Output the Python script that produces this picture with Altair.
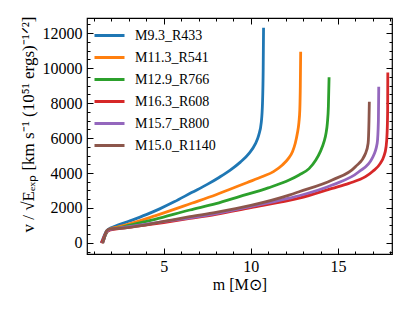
import altair as alt
import pandas as pd

series = ["M9.3_R433", "M11.3_R541", "M12.9_R766", "M16.3_R608", "M15.7_R800", "M15.0_R1140"]
colors = ["#1f77b4", "#ff7f0e", "#2ca02c", "#d62728", "#9467bd", "#8c564b"]

m_blue = [1.42, 1.5, 1.6, 1.7, 1.85, 2.2, 3, 4, 4.77, 5.6, 6.6, 7.5, 8.2, 8.8, 9.4, 9.9, 10.25, 10.45, 10.6, 10.67, 10.71, 10.73]
v_blue = [0, 200, 450, 650, 800, 950, 1240, 1620, 1950, 2350, 2880, 3350, 3760, 4150, 4620, 5120, 5650, 6150, 6900, 8000, 10000, 12300]

m_orange = [1.45, 1.55, 1.65, 1.75, 1.9, 2.3, 3, 4.5, 6.6, 8, 8.77, 9.8, 10.67, 11.3, 11.81, 12.15, 12.39, 12.55, 12.67, 12.76, 12.81, 12.84, 12.86]
v_orange = [0, 250, 500, 680, 790, 900, 1080, 1550, 2270, 2760, 3060, 3460, 3800, 4080, 4460, 4820, 5220, 5700, 6270, 6900, 7600, 9000, 10930]

m_green = [1.48, 1.58, 1.68, 1.78, 1.95, 2.4, 3, 4.5, 6.5, 8, 9.34, 11, 12.2, 12.77, 13.34, 13.73, 14.0, 14.2, 14.32, 14.39, 14.45, 14.49]
v_green = [0, 250, 500, 680, 770, 860, 1000, 1350, 1886, 2250, 2650, 3150, 3600, 3890, 4250, 4740, 5250, 5790, 6300, 6840, 7800, 9470]

m_red = [1.42, 1.52, 1.62, 1.75, 1.95, 2.5, 3.5, 5, 6.5, 8, 10, 12.2, 12.77, 14.67, 15.63, 16.58, 17.0, 17.43, 17.63, 17.76, 17.82, 17.85, 17.86]
v_red = [0, 200, 450, 650, 740, 830, 960, 1170, 1400, 1640, 2020, 2430, 2560, 3120, 3410, 3790, 4100, 4550, 4950, 5500, 6300, 7600, 9750]

m_purple = [1.5, 1.6, 1.7, 1.8, 1.95, 2.5, 3.5, 5, 6.5, 8, 10, 12.2, 12.77, 14.67, 16.2, 16.96, 17.25, 17.32, 17.34]
v_purple = [0, 300, 600, 720, 780, 860, 1000, 1220, 1430, 1680, 2080, 2560, 2700, 3310, 4070, 4840, 5700, 7000, 8930]

m_brown = [1.5, 1.6, 1.7, 1.8, 1.95, 2.56, 3.5, 5, 6.5, 8, 10, 12.2, 12.77, 14.67, 16.0, 16.58, 16.73, 16.78, 16.8]
v_brown = [0, 300, 650, 760, 810, 840, 960, 1230, 1500, 1750, 2150, 2740, 2930, 3600, 4360, 5120, 5700, 7000, 8070]

x_major = [5, 10, 15]
x_minor = list(range(1, 19))
y_major = [0, 2000, 4000, 6000, 8000, 10000, 12000]
y_minor = list(range(-500, 12501, 500))
x_domain = [0.6, 18.1]
y_domain = [-630, 12860]

rows = []
for name, ms, vs in zip(series,
                        [m_blue, m_orange, m_green, m_red, m_purple, m_brown],
                        [v_blue, v_orange, v_green, v_red, v_purple, v_brown]):
    for i, (m, v) in enumerate(zip(ms, vs)):
        rows.append({"model": name, "m": m, "v": v, "i": i})
df = pd.DataFrame(rows)

FONT = "Liberation Serif, serif"
xs = alt.Scale(domain=x_domain, nice=False, zero=False)
ys = alt.Scale(domain=y_domain, nice=False, zero=False)


def tick_axis(orient, values, size, labels=False, **kw):
    return alt.Axis(orient=orient, values=values, tickSize=size, offset=-size,
                    domain=False, grid=False, labels=labels, tickColor="black",
                    tickWidth=1, **kw)


x_main = tick_axis("bottom", x_major, 6, labels=True, title="m [M⊙]", format="d",
                   labelPadding=4, titlePadding=2, labelFontSize=16,
                   titleFontSize=16, labelFont=FONT, titleFont=FONT,
                   titleFontWeight="normal", labelColor="black", titleColor="black")
y_main = tick_axis("left", y_major, 6, labels=True, format="d",
                   title="v / √Eₑₓₚ [km s⁻¹ (10⁵¹ ergs)⁻¹ᐟ²]",
                   labelPadding=5, titlePadding=5, titleY=106, labelFontSize=16,
                   titleFontSize=17, labelFont=FONT, titleFont=FONT,
                   titleFontWeight="normal", labelColor="black", titleColor="black")

lines = alt.Chart(df).mark_line(strokeWidth=2.8, interpolate="monotone").encode(
    x=alt.X("m:Q", scale=xs, axis=x_main),
    y=alt.Y("v:Q", scale=ys, axis=y_main),
    color=alt.Color("model:N", scale=alt.Scale(domain=series, range=colors),
                    legend=alt.Legend(title=None, orient="none", legendX=6, legendY=9,
                                      symbolType="stroke", symbolStrokeWidth=3,
                                      symbolSize=900, labelFontSize=14, labelFont=FONT,
                                      labelColor="black", labelOffset=9,
                                      rowPadding=5, clipHeight=17)),
    order="i:Q",
)


def ghost(xaxis, yaxis):
    return alt.Chart(df).mark_point(opacity=0, size=1).encode(
        x=alt.X("m:Q", scale=xs, axis=xaxis),
        y=alt.Y("v:Q", scale=ys, axis=yaxis),
    )


g1 = ghost(tick_axis("bottom", x_minor, 3, title=""), tick_axis("left", y_minor, 3, title=""))
g2 = ghost(tick_axis("top", x_major, 6, title=""), tick_axis("right", y_major, 6, title=""))
g3 = ghost(tick_axis("top", x_minor, 3, title=""), tick_axis("right", y_minor, 3, title=""))

chart = alt.layer(g1, g2, g3, lines).resolve_axis(
    x="independent", y="independent"
).properties(
    width=305, height=236,
    autosize=alt.AutoSizeParams(type="none"),
    padding={"left": 79, "top": 10, "right": 15, "bottom": 48},
).configure(font=FONT).configure_view(stroke="black", strokeWidth=1.2)

chart.save("out.html", embed_options={"renderer": "svg", "actions": False})
